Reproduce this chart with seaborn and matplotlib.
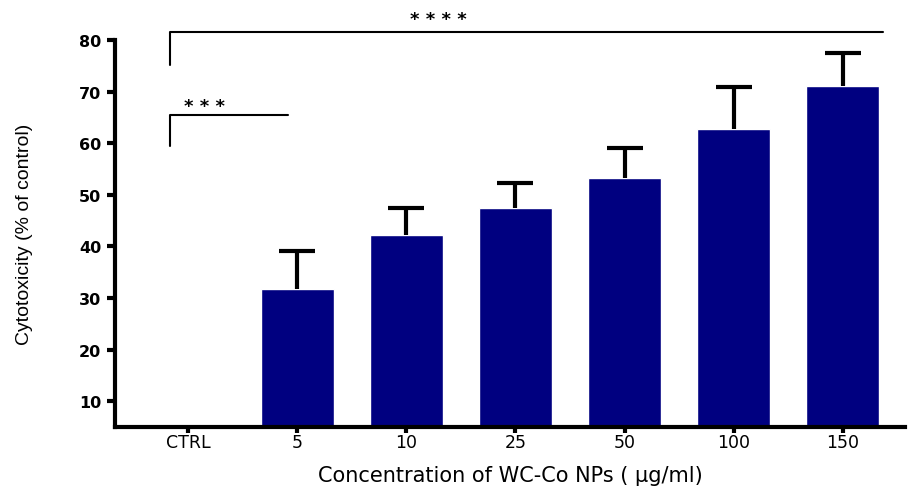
import matplotlib
matplotlib.use("Agg")
import matplotlib.pyplot as plt
import seaborn as sns
import pandas as pd

categories = ["CTRL", "5", "10", "25", "50", "100", "150"]
means = [0.0, 31.8, 42.2, 47.4, 53.2, 62.8, 71.0]
errors = [0.0, 7.3, 5.2, 4.8, 5.8, 8.0, 6.4]
y_ticks = [10, 20, 30, 40, 50, 60, 70, 80]

# significance brackets: (start category, end category, bracket height, left leg bottom, label, label x, label y)
sig_brackets = [
    ("CTRL", "150", 81.5, 75.2, "* * * *", 2.29, 84.5),
    ("CTRL", "5", 65.5, 59.5, "* * *", 0.15, 67.6),
]

df = pd.DataFrame({"conc": categories, "val": means})

sns.set_style("ticks")
plt.rcParams["font.family"] = ["DejaVu Sans"]
plt.rcParams["text.color"] = "black"
plt.rcParams["axes.labelcolor"] = "black"
plt.rcParams["xtick.color"] = "black"
plt.rcParams["ytick.color"] = "black"
plt.rcParams["axes.edgecolor"] = "black"

fig = plt.figure(figsize=(9.09, 4.89), dpi=100)
ax = fig.add_axes([0.1265, 0.1247, 0.869, 0.7915])

sns.barplot(data=df, x="conc", y="val", order=categories, color="#000080",
            saturation=1, width=0.67, errorbar=None, ax=ax)
xs = list(range(len(categories)))
_, caps, _ = ax.errorbar(xs[1:], means[1:], yerr=[[0] * (len(xs) - 1), errors[1:]],
                         fmt="none", ecolor="black", elinewidth=3, capsize=13, capthick=3)
caps[0].set_visible(False)

ax.set_ylim(5, 80)
ax.set_xlim(-0.67, 6.57)
ax.set_yticks(y_ticks)
ax.set_yticklabels([str(t) for t in y_ticks], fontweight="bold", fontsize=11.5)
ax.set_xticks(xs)
ax.set_xticklabels(categories, fontsize=12.5)
ax.set_ylabel("Cytotoxicity (% of control)", fontsize=14, labelpad=33,
              family=["Liberation Sans", "DejaVu Sans"])
ax.set_xlabel("Concentration of WC-Co NPs ( µg/ml)", fontsize=15, labelpad=10.5)

for s in ["top", "right"]:
    ax.spines[s].set_visible(False)
for s in ["left", "bottom"]:
    ax.spines[s].set_linewidth(3)
ax.tick_params(axis="y", width=3, length=6, pad=4)
ax.tick_params(axis="x", width=3, length=4, pad=0)

for start, end, h, leg, label, lx, ly in sig_brackets:
    x0 = categories.index(start) - 0.165
    x1 = categories.index(end) + (0.37 if end == "150" else -0.08)
    ax.plot([x0, x0, x1], [leg, h, h], color="black", lw=1.5, clip_on=False)
    ax.text(lx, ly, label, ha="center", va="center_baseline", fontsize=13,
            fontweight="bold", clip_on=False)

fig.savefig("out.png", dpi=100)
